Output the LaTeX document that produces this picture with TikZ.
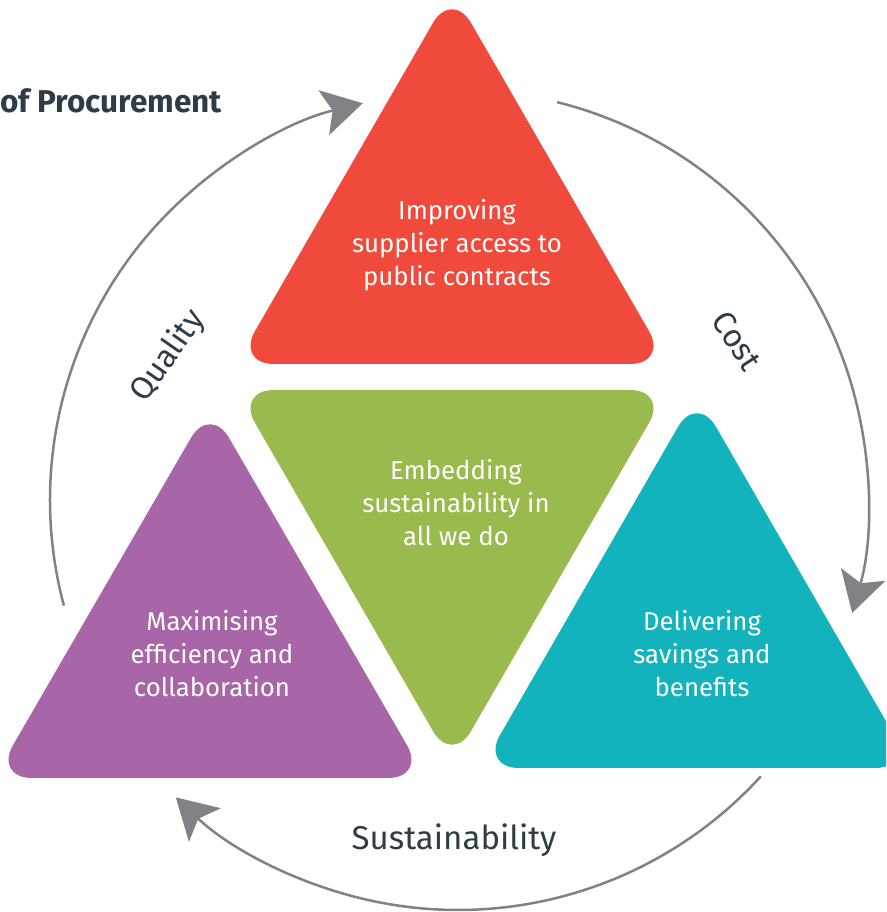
\documentclass[tikz,border=0pt]{standalone}
\usepackage{fontspec}
\setmainfont{Fira Sans}
\usetikzlibrary{arrows.meta}
\definecolor{tred}{HTML}{EF4A3B}
\definecolor{tgreen}{HTML}{9BBA4E}
\definecolor{tteal}{HTML}{12B3BC}
\definecolor{tpurple}{HTML}{A866A8}
\definecolor{arrowgray}{HTML}{808285}
\definecolor{darktext}{HTML}{2E3C48}
\begin{document}
\begin{tikzpicture}[x=1pt,y=1pt,
  tri/.style={rounded corners=38pt},
  lbl/.style={text=white, font=\fontsize{25.8}{33}\selectfont, align=center},
  flow/.style={draw=arrowgray, line width=2.5pt, -{Stealth[length=40pt,width=46pt,inset=9pt]}},
  captext/.style={text=darktext, font=\fontsize{32}{38}\selectfont}]
\clip (0,0) rectangle (886,912);
\fill[white] (0,0) rectangle (886,912);
% triangles
\fill[tred,tri] (236,548) -- (452,922) -- (668,548) -- cycle;
\fill[tgreen,tri] (236,522) -- (668,522) -- (452,148) -- cycle;
\fill[tpurple,tri] (-6,134) -- (210,507) -- (426,134) -- cycle;
\fill[tteal,tri] (481,144) -- (697,518) -- (913,144) -- cycle;
% cycle arrows
\coordinate (ctr) at (458,412);
\draw[flow] (ctr) ++(76:410) arc[start angle=76, end angle=-16, radius=410];
\draw[flow] (ctr) ++(-42.4:410) arc[start angle=-42.4, end angle=-133.5, radius=410];
\draw[flow] (ctr) ++(195:408) arc[start angle=195, end angle=103.5, radius=408];
% texts
\node[lbl] (tred) at (457,667) {Improving\\supplier access to\\public contracts};
\node[lbl] (tgreen) at (456,409) {Embedding\\sustainability in\\all we do};
\node[lbl] (tpurple) at (212,258) {Maximising\\efficiency and\\collaboration};
\node[lbl] (tteal) at (702,258) {Delivering\\savings and\\benefits};
\node[captext, rotate=55] (quality) at (168,556) {Quality};
\node[captext, rotate=-57] (cost) at (737,571) {Cost};
\node[captext, font=\fontsize{33}{40}\selectfont] (sust) at (454,72) {Sustainability};
\node[anchor=base west, inner sep=0pt, text=darktext, font=\fontsize{31.5}{38}\selectfont\bfseries] (title) at (0,799) {of Procurement};
\end{tikzpicture}
\end{document}
